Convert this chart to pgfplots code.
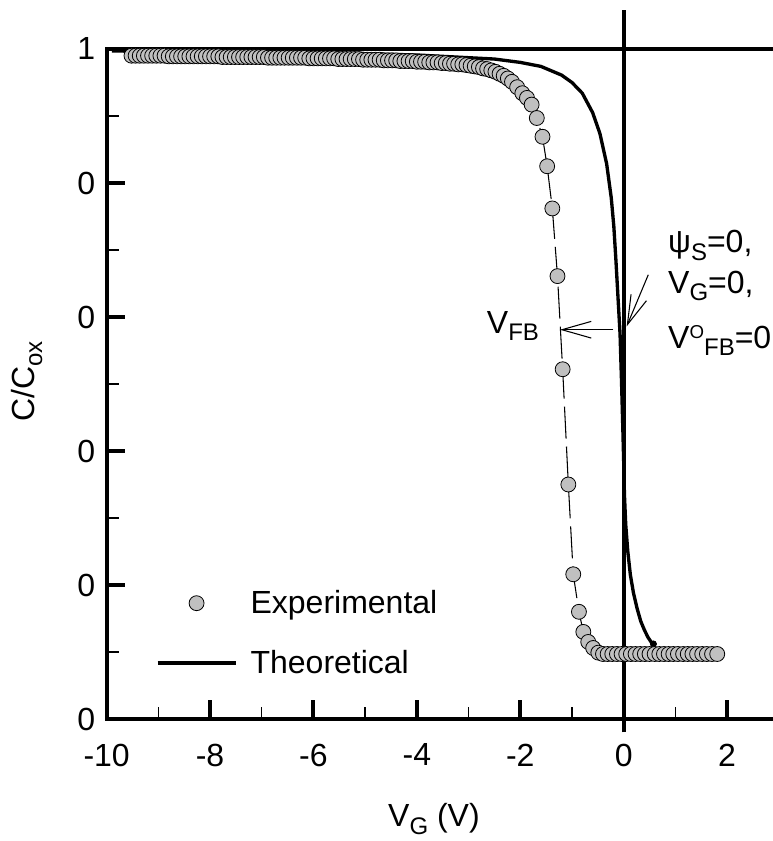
\documentclass[border=0pt]{standalone}
\usepackage{fontspec}
\setmainfont{Liberation Sans}
\usepackage{pgfplots}
\usepackage{pgfplotstable}
\pgfplotsset{compat=1.18}
\usetikzlibrary{arrows.meta}

\definecolor{markgray}{RGB}{192,192,192}
\newcommand\mainfs{\fontsize{24}{28}\selectfont}
\newcommand\sub[1]{\raisebox{-5.5pt}{\fontsize{18}{20}\selectfont #1}}
\newcommand\super[1]{\raisebox{7.5pt}{\fontsize{14}{16}\selectfont #1}}

\pgfplotsset{
  dotlegend/.style={legend image code/.code={\path[draw=none] (0pt,0pt) -- (58.5pt,0pt);
    \path[##1, draw=none] plot coordinates {(29.25pt,0pt)};}},
  linelegend/.style={legend image code/.code={\draw[##1] (0pt,0pt) -- (58.5pt,0pt);}},
}

% measured C/Cox versus gate voltage
\pgfplotstableread{
x y
-9.52 0.990
-9.44 0.990
-9.36 0.990
-9.28 0.990
-9.20 0.990
-9.12 0.990
-9.04 0.990
-8.96 0.990
-8.88 0.990
-8.80 0.989
-8.72 0.989
-8.64 0.989
-8.56 0.989
-8.48 0.989
-8.40 0.989
-8.32 0.989
-8.24 0.989
-8.16 0.989
-8.08 0.989
-8.00 0.989
-7.92 0.989
-7.84 0.989
-7.76 0.988
-7.68 0.988
-7.60 0.988
-7.52 0.988
-7.44 0.988
-7.36 0.988
-7.28 0.988
-7.20 0.988
-7.12 0.988
-7.04 0.988
-6.96 0.988
-6.88 0.987
-6.80 0.987
-6.72 0.987
-6.64 0.987
-6.56 0.987
-6.48 0.987
-6.40 0.987
-6.32 0.987
-6.24 0.987
-6.16 0.987
-6.08 0.986
-6.00 0.986
-5.92 0.986
-5.84 0.986
-5.76 0.986
-5.68 0.986
-5.60 0.986
-5.52 0.985
-5.44 0.985
-5.36 0.985
-5.28 0.985
-5.20 0.985
-5.12 0.985
-5.04 0.984
-4.96 0.984
-4.88 0.984
-4.80 0.984
-4.72 0.984
-4.64 0.983
-4.56 0.983
-4.48 0.983
-4.40 0.983
-4.32 0.982
-4.24 0.982
-4.16 0.982
-4.08 0.982
-4.00 0.981
-3.92 0.981
-3.84 0.981
-3.76 0.980
-3.68 0.980
-3.60 0.980
-3.52 0.979
-3.44 0.979
-3.36 0.978
-3.28 0.978
-3.20 0.977
-3.12 0.977
-3.04 0.976
-2.96 0.975
-2.88 0.974
-2.80 0.973
-2.72 0.971
-2.64 0.970
-2.56 0.968
-2.48 0.966
-2.40 0.963
-2.32 0.960
-2.24 0.956
-2.16 0.951
-2.06 0.943
-1.96 0.934
-1.87 0.927
-1.78 0.917
-1.68 0.897
-1.57 0.869
-1.48 0.825
-1.38 0.762
-1.28 0.661
-1.18 0.522
-1.07 0.350
-0.975 0.216
-0.865 0.160
-0.78 0.130
-0.685 0.115
-0.59 0.106
-0.49 0.099
-0.40 0.097
-0.31 0.097
-0.22 0.097
-0.13 0.097
-0.04 0.097
0.05 0.097
0.14 0.097
0.23 0.097
0.32 0.097
0.41 0.097
0.50 0.097
0.60 0.097
0.69 0.097
0.78 0.097
0.87 0.097
0.96 0.097
1.05 0.097
1.15 0.097
1.24 0.097
1.33 0.097
1.42 0.097
1.52 0.097
1.61 0.097
1.71 0.097
1.81 0.097
}\expdata

% ideal high-frequency C-V curve
\pgfplotstableread{
x y
-9.90 0.997
-9.00 0.9965
-8.00 0.996
-7.00 0.995
-6.00 0.994
-5.00 0.993
-4.00 0.991
-3.50 0.989
-3.00 0.987
-2.50 0.985
-2.00 0.980
-1.60 0.974
-1.20 0.961
-1.00 0.950
-0.80 0.934
-0.60 0.905
-0.46 0.874
-0.33 0.829
-0.24 0.778
-0.19 0.735
-0.15 0.685
-0.11 0.630
-0.07 0.575
-0.04 0.500
-0.015 0.430
0.000 0.385
0.015 0.335
0.040 0.290
0.080 0.250
0.130 0.215
0.190 0.188
0.260 0.165
0.330 0.146
0.400 0.133
0.470 0.122
0.530 0.115
0.570 0.111
}\theodata

\begin{document}
\begin{tikzpicture}[font=\mainfs]
\path[use as bounding box] (-80pt,-91.5pt) rectangle (499.7pt,539.25pt);
\begin{axis}[
  at={(0pt,0pt)}, anchor=south west,
  scale only axis, width=499.8pt, height=502.5pt,
  xmin=-10, xmax=2.89, ymin=0, ymax=1,
  axis x line*=bottom, axis y line*=left,
  axis line style={line width=3pt, line cap=rect},
  clip=false,
  xtick={-10,-8,-6,-4,-2,0,2},
  xticklabels={-10,-8,-6,-4,-2,0,2},
  minor xtick={-9,-7,-5,-3,-1,1},
  ytick={0,0.2,0.4,0.6,0.8,1},
  yticklabels={0,0,0,0,0,1},
  minor ytick={0.1,0.3,0.5,0.7,0.9},
  tick align=inside,
  major tick length=14pt, minor tick length=9pt,
  major tick style={line width=3pt, black},
  minor tick style={line width=1pt, black},
  tick label style={font=\mainfs},
  xticklabel style={yshift=-15pt},
  yticklabel style={xshift=-5pt},
  legend style={draw=none, fill=none, font=\mainfs,
    at={(axis cs:-9.13,0.200)}, anchor=north west,
    row sep=22pt, column sep=8pt,
    cells={anchor=west}},
]
% top frame line and the V_G = 0 marker line
\addplot[line width=3pt, line cap=rect, forget plot] coordinates {(-10,1) (2.89,1)};
\addplot[line width=3pt, forget plot] coordinates {(0,-0.02) (0,1.058)};

\addplot[line width=2.5pt, forget plot] table {\theodata};
\addplot[only marks, mark=*, mark size=2.4pt, forget plot] coordinates {(0.575,0.112)};

\addplot[black, line width=0.8pt, dash pattern=on 24pt off 6pt, forget plot] table {\expdata};
\addplot[only marks, mark=*, mark size=5.6pt,
  mark options={fill=markgray, draw=black, line width=0.6pt, solid},
  dotlegend] table {\expdata};
\addlegendentry{Experimental}
\addlegendimage{line width=2.5pt, linelegend}
\addlegendentry{Theoretical}

% annotations
\draw[line width=0.8pt, -{Straight Barb[length=22pt,width=12.5pt]}]
  (axis cs:-0.20,0.581) -- (axis cs:-1.232,0.581);
\draw[line width=0.8pt, -{Straight Barb[length=22pt,width=12.5pt]}]
  (axis cs:0.476,0.663) -- (axis cs:0.058,0.586);
\node[anchor=base west, inner sep=0pt] at (axis cs:-2.65,0.5757) {V\sub{FB}};
\node[anchor=base west, inner sep=0pt] at (axis cs:0.857,0.696) {ψ\sub{S}=0,};
\node[anchor=base west, inner sep=0pt] at (axis cs:0.857,0.635) {V\sub{G}=0,};
\node[anchor=base west, inner sep=0pt] at (axis cs:0.857,0.5537) {V\super{O}\sub{FB}=0};

% axis titles
\node[anchor=base west, inner sep=0pt] at (axis cs:-4.56,-0.161) {V\sub{G} (V)};
\node[rotate=90, anchor=base, inner sep=0pt] at (axis cs:-11.39,0.504) {C/C\sub{ox}};
\end{axis}
\end{tikzpicture}
\end{document}
